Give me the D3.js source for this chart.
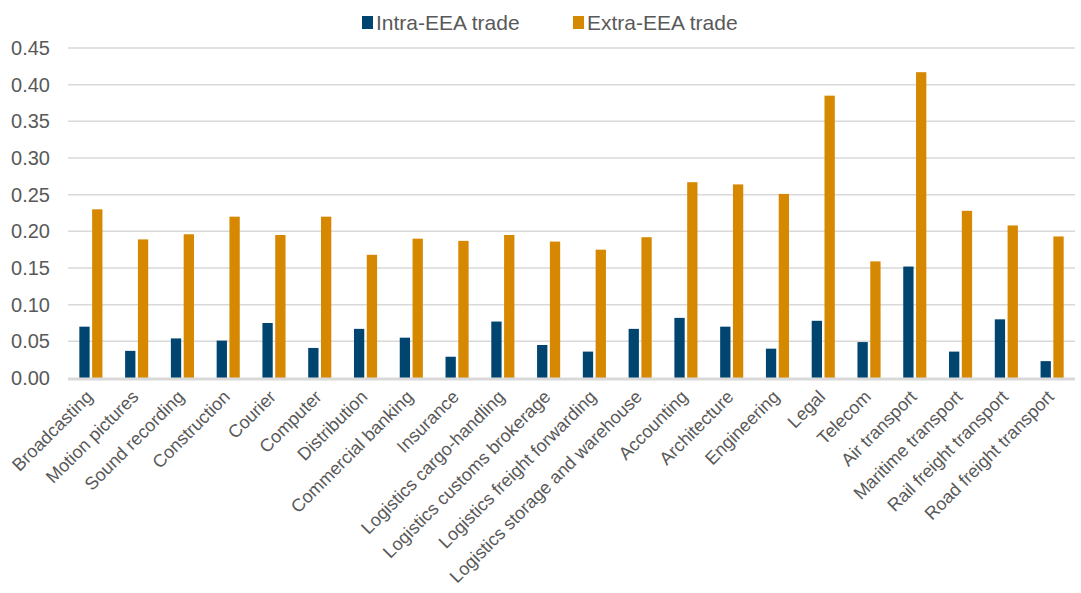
<!DOCTYPE html>
<html>
<head>
<meta charset="utf-8">
<script src="https://cdn.jsdelivr.net/npm/d3@7"></script>
<style>
  body { margin: 0; background: #fff; }
  text { font-family: "Liberation Sans", Arial, sans-serif; fill: #595959; }
</style>
</head>
<body>
<div id="chart"></div>
<script>
const sectors = ["Broadcasting", "Motion pictures", "Sound recording", "Construction", "Courier",
  "Computer", "Distribution", "Commercial banking", "Insurance", "Logistics cargo-handling",
  "Logistics customs brokerage", "Logistics freight forwarding", "Logistics storage and warehouse",
  "Accounting", "Architecture", "Engineering", "Legal", "Telecom", "Air transport",
  "Maritime transport", "Rail freight transport", "Road freight transport"];

const intraEEA = [0.070, 0.037, 0.054, 0.051, 0.075, 0.041, 0.067, 0.055, 0.029, 0.077, 0.045,
  0.036, 0.067, 0.082, 0.070, 0.040, 0.078, 0.049, 0.152, 0.036, 0.080, 0.023];

const extraEEA = [0.230, 0.189, 0.196, 0.220, 0.195, 0.220, 0.168, 0.190, 0.187, 0.195, 0.186,
  0.175, 0.192, 0.267, 0.264, 0.251, 0.385, 0.159, 0.417, 0.228, 0.208, 0.193];

const seriesNames = ["Intra-EEA trade", "Extra-EEA trade"];
const colors = ["#004570", "#d58800"];
const yTicks = [0, 0.05, 0.10, 0.15, 0.20, 0.25, 0.30, 0.35, 0.40, 0.45];

const W = 1081, H = 593;
const margin = { top: 48, left: 68, right: 6, bottom: 215 };
const width = W - margin.left - margin.right,
  height = H - margin.top - margin.bottom;

const svg = d3.select("#chart").append("svg")
  .attr("width", W).attr("height", H);

const g = svg.append("g")
  .attr("transform", "translate(" + margin.left + "," + margin.top + ")");

const x = d3.scaleBand().domain(sectors).range([0, width]).paddingInner(0).paddingOuter(0);
const y = d3.scaleLinear().domain([0, 0.45]).range([height, 0]);

// grid lines
g.append("g")
  .selectAll("line")
  .data(yTicks.slice(1))
  .enter().append("line")
  .attr("x1", 0).attr("x2", width)
  .attr("y1", d => y(d)).attr("y2", d => y(d))
  .attr("stroke", "#d9d9d9").attr("stroke-width", 1.5);

// y axis labels
const yAxis = g.append("g")
  .call(d3.axisLeft(y).tickValues(yTicks).tickFormat(d3.format(".2f")).tickSize(0).tickPadding(18));
yAxis.select(".domain").remove();
yAxis.selectAll("text").style("font-size", "20px").attr("fill", "#595959");

// bars
const bw = x.bandwidth() * 0.225;
const gap = 2.5;
const groups = g.selectAll(".sector")
  .data(sectors)
  .enter().append("g")
  .attr("transform", d => "translate(" + (x(d) + x.bandwidth() / 2) + ",0)");

groups.append("rect")
  .attr("x", -bw - gap / 2).attr("width", bw)
  .attr("y", (d, i) => y(intraEEA[i]))
  .attr("height", (d, i) => height - y(intraEEA[i]))
  .attr("fill", colors[0]);

groups.append("rect")
  .attr("x", gap / 2).attr("width", bw)
  .attr("y", (d, i) => y(extraEEA[i]))
  .attr("height", (d, i) => height - y(extraEEA[i]))
  .attr("fill", colors[1]);

// baseline
g.append("line")
  .attr("x1", 0).attr("x2", width)
  .attr("y1", height + 1).attr("y2", height + 1)
  .attr("stroke", "#d9d9d9").attr("stroke-width", 3);

// x labels
g.append("g")
  .selectAll("text")
  .data(sectors)
  .enter().append("text")
  .attr("transform", d => "translate(" + (x(d) + x.bandwidth() / 2 + 3) + "," + (height + 20) + ") rotate(-45)")
  .attr("text-anchor", "end")
  .style("font-size", "18px")
  .text(d => d);

// legend
const legend = svg.append("g").attr("transform", "translate(362,16)");
const items = legend.selectAll("g")
  .data(seriesNames)
  .enter().append("g")
  .attr("transform", (d, i) => "translate(" + (i * 211) + ",0)");
items.append("rect").attr("width", 11).attr("height", 13).attr("fill", (d, i) => colors[i]);
items.append("text").attr("x", 14).attr("y", 14).style("font-size", "21px").text(d => d);
</script>
</body>
</html>
